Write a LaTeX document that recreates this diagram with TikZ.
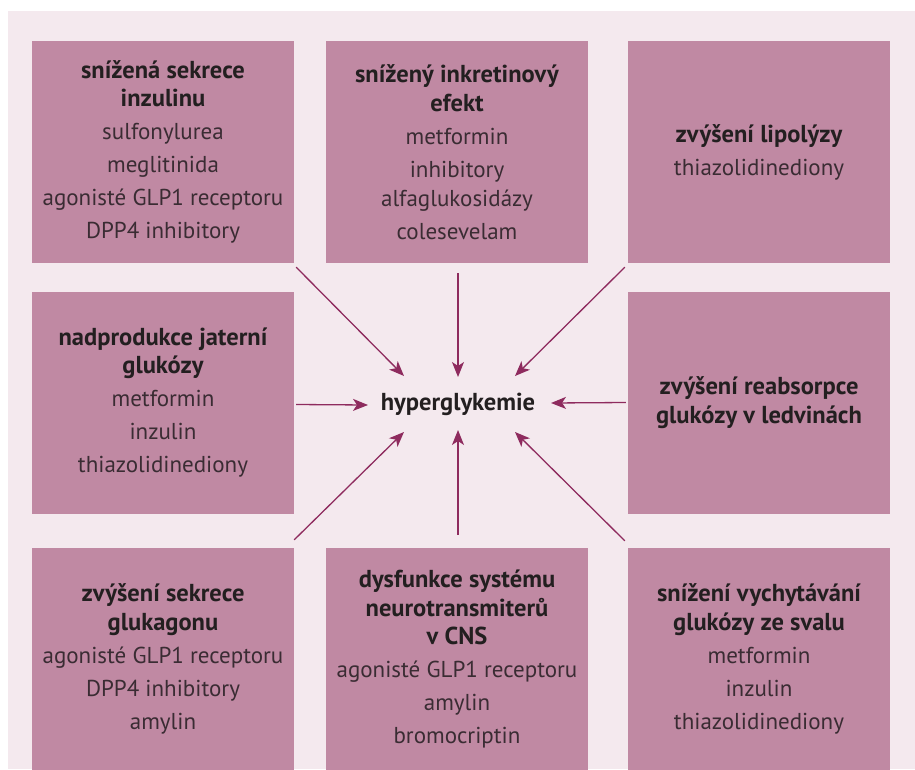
\documentclass[tikz,border=0pt]{standalone}
\usepackage{fontspec}
\setmainfont{PT Sans}
\usetikzlibrary{arrows.meta}

\definecolor{bgpink}{HTML}{F4E9EE}
\definecolor{boxmauve}{HTML}{C089A3}
\definecolor{arrowplum}{HTML}{8E2B5E}
\definecolor{headtext}{HTML}{231F20}
\definecolor{bodytext}{HTML}{3A2C33}

\newcommand{\hd}[1]{{\fontsize{24.5}{33}\selectfont\bfseries\color{headtext}#1}}

\begin{document}
\begin{tikzpicture}[x=1pt, y=-1pt,
    cause/.style={fill=boxmauve, minimum width=262pt, minimum height=222pt, inner sep=0pt,
        align=center, text=bodytext, font=\fontsize{23}{33}\selectfont},
    arr/.style={-{Stealth[length=15pt, width=12pt, inset=4pt]}, draw=arrowplum, line width=1.3pt}]
    \useasboundingbox (0,0) rectangle (915,769);
    \fill[bgpink] (8,11) rectangle (915,769);

    % top row
    \node[cause] (insul) at (163,152) {\hd{snížená sekrece}\\[-4.5pt] \hd{inzulinu}\\ sulfonylurea\\ meglitinida\\ agonisté GLP1 receptoru\\ DPP4 inhibitory};
    \node[cause] (inkret) at (457,152) {\hd{snížený inkretinový}\\[-4.5pt] \hd{efekt}\\ metformin\\ inhibitory\\[-4pt] alfaglukosidázy\\ colesevelam};
    \node[cause] (lipo) at (759,152) {\hd{zvýšení lipolýzy}\\ thiazolidinediony};

    % middle row
    \node[cause] (jatra) at (163,402.5) {\hd{nadprodukce jaterní}\\[-4.5pt] \hd{glukózy}\\ metformin\\ inzulin\\ thiazolidinediony};
    \node[font=\fontsize{24.5}{28}\bfseries, text=headtext] (hyper) at (458,404) {hyperglykemie};
    \node[cause] (ledv) at (759,402.5) {\hd{zvýšení reabsorpce}\\[-4.5pt] \hd{glukózy v ledvinách}};

    % bottom row
    \node[cause] (glukag) at (163,659) {\hd{zvýšení sekrece}\\[-4.5pt] \hd{glukagonu}\\ agonisté GLP1 receptoru\\ DPP4 inhibitory\\ amylin};
    \node[cause] (cns) at (457,659) {\hd{dysfunkce systému}\\[-4.5pt] \hd{neurotransmiterů}\\[-4.5pt] \hd{v CNS}\\ agonisté GLP1 receptoru\\ amylin\\ bromocriptin};
    \node[cause] (sval) at (759,659) {\hd{snížení vychytávání}\\[-4.5pt] \hd{glukózy ze svalu}\\ metformin\\ inzulin\\ thiazolidinediony};

    % arrows into hyperglykemie
    \draw[arr] ([shift={(2,4)}]insul.south east) -- ([shift={(-54,-28)}]hyper.center);
    \draw[arr] ([shift={(1,10)}]inkret.south) -- ([shift={(0,-27)}]hyper.center);
    \draw[arr] ([shift={(-3,4)}]lipo.south west) -- ([shift={(57,-28)}]hyper.center);
    \draw[arr] ([shift={(2,2)}]jatra.east) -- ([shift={(-90,1)}]hyper.center);
    \draw[arr] ([shift={(-2,0)}]ledv.west) -- ([shift={(93,-1)}]hyper.center);
    \draw[arr] ([shift={(0,-8)}]glukag.north east) -- ([shift={(-54,28)}]hyper.center);
    \draw[arr] ([shift={(1,-13)}]cns.north) -- ([shift={(0,26)}]hyper.center);
    \draw[arr] ([shift={(-3,-7)}]sval.north west) -- ([shift={(57,28)}]hyper.center);
\end{tikzpicture}
\end{document}
